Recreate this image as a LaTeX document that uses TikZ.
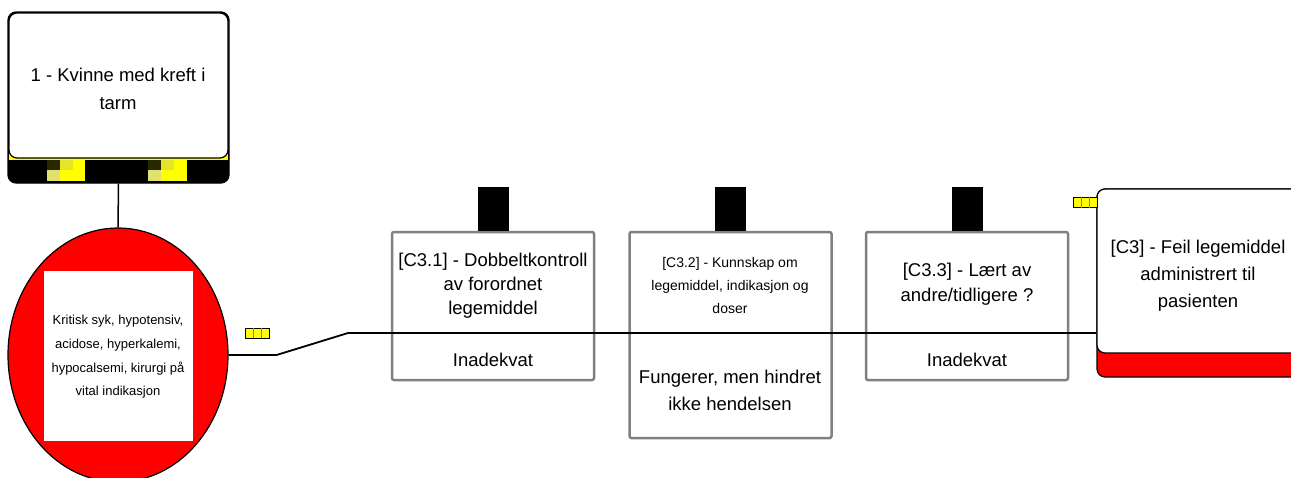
\documentclass[tikz,border=0pt]{standalone}
\usepackage{fontspec}
\setmainfont{Liberation Sans}
\usetikzlibrary{positioning,shapes.geometric,calc}
\definecolor{bgray}{RGB}{128,128,128}
\definecolor{bred}{RGB}{255,0,0}
\definecolor{byel}{RGB}{255,255,0}
\definecolor{bolive}{RGB}{40,40,0}
\definecolor{bpale}{RGB}{228,228,40}
\definecolor{blight}{RGB}{225,225,110}
\tikzset{
  big/.style={font=\fontsize{18.5}{24}\selectfont},
  lbl/.style={align=center,inner sep=0pt},
  event/.style={rectangle,rounded corners=8pt,draw=black,line width=1.2pt,
                fill=white,inner sep=0pt},
  barrier/.style={rectangle,rounded corners=2pt,draw=bgray,line width=2.5pt,
                  fill=white,minimum width=202pt,inner sep=0pt},
  tab/.style={rectangle,fill=black,minimum width=31pt,minimum height=44pt,inner sep=0pt},
  tag/.style={rectangle,draw=black,line width=0.6pt,fill=byel,
              minimum width=24pt,minimum height=10pt,inner sep=0pt},
  wire/.style={line width=1.8pt,black},
}
\begin{document}
\begin{tikzpicture}[x=1pt,y=-1pt]
  \clip (0,0) rectangle (1291,477);
  % hazard
  \node[event,fill=black,minimum width=221pt,minimum height=171pt] (haz) at (118.5,97.5) {};
  \fill[byel] (9,152) rectangle (228,159.5);
  \fill[bolive] (46.7,159.5) rectangle (59.6,170);
  \fill[bpale] (59.6,159.5) rectangle (72.5,170);
  \fill[byel] (72.5,159.5) rectangle (85.4,181);
  \fill[blight] (46.7,170) rectangle (59.6,181);
  \fill[byel] (59.6,170) rectangle (72.5,181);
  \fill[bolive] (148,159.5) rectangle (161,170);
  \fill[bpale] (161,159.5) rectangle (174,170);
  \fill[byel] (174,159.5) rectangle (187,181);
  \fill[blight] (148,170) rectangle (161,181);
  \fill[byel] (161,170) rectangle (174,181);
  \node[event,minimum width=219pt,minimum height=145pt] (hazw) at (118.5,85.5) {};
  \node[lbl,big,font=\fontsize{18.5}{28}\selectfont] (hazl) at (118,89) {1 - Kvinne med kreft i\\tarm};

  % top event
  \node[ellipse,draw=black,line width=1.2pt,fill=bred,minimum width=220pt,
        minimum height=254pt] (topev) at (118,355) {};
  \node[fill=white,minimum width=149pt,minimum height=170pt,inner sep=0pt] (topw) at (118.5,356) {};
  \node[lbl,font=\fontsize{13}{23.7}\selectfont] (topl) at (118,357)
    {Kritisk syk, hypotensiv,\\acidose, hyperkalemi,\\hypocalsemi, kirurgi på\\vital indikasjon};
  \draw[line width=1.5pt] (haz.south) -- (topev.north);

  % barriers
  \node[barrier,minimum height=148pt] (b1) at (493,306) {};
  \node[tab,above=0pt of b1] (b1k) {};
  \node[lbl,big] (b1l) at (493,286) {[C3.1] - Dobbeltkontroll\\av forordnet\\legemiddel};
  \node[lbl,big] (b1s) at (493,360) {Inadekvat};

  \node[barrier,minimum height=206pt] (b2) at (730.5,335) {};
  \node[tab,above=0pt of b2] (b2k) {};
  \node[lbl,font=\fontsize{14}{23}\selectfont] (b2l) at (730,285)
    {[C3.2] - Kunnskap om\\legemiddel, indikasjon og\\doser};
  \node[lbl,font=\fontsize{18.5}{27}\selectfont] (b2s) at (730,390)
    {Fungerer, men hindret\\ikke hendelsen};

  \node[barrier,minimum height=148pt] (b3) at (967,306) {};
  \node[tab,above=0pt of b3] (b3k) {};
  \node[lbl,big,font=\fontsize{18.5}{25}\selectfont] (b3l) at (967,284)
    {[C3.3] - Lært av\\andre/tidligere ?};
  \node[lbl,big] (b3s) at (967,360) {Inadekvat};

  % consequence
  \node[event,fill=bred,minimum width=203pt,minimum height=188pt] (cons) at (1198.5,283) {};
  \node[event,minimum width=203pt,minimum height=164pt] (consw) at (1198.5,271) {};
  \node[lbl,font=\fontsize{18.5}{27}\selectfont] (consl) at (1198,276)
    {[C3] - Feil legemiddel\\administrert til\\pasienten};

  % main line
  \coordinate (kink) at (348,333);
  \draw[wire] (topev.east) -- ++(48,0) -- (kink) -- (kink -| cons.west);

  % tags
  \node[tag] (tg1) at (257,333) {};
  \node[tag] (tg2) at (1085,202.5) {};
  \foreach \t in {tg1,tg2}
    \foreach \f in {0.333,0.667}
      \draw[line width=0.3pt,gray] ($(\t.north west)!\f!(\t.north east)$) -- ($(\t.south west)!\f!(\t.south east)$);
\end{tikzpicture}
\end{document}
